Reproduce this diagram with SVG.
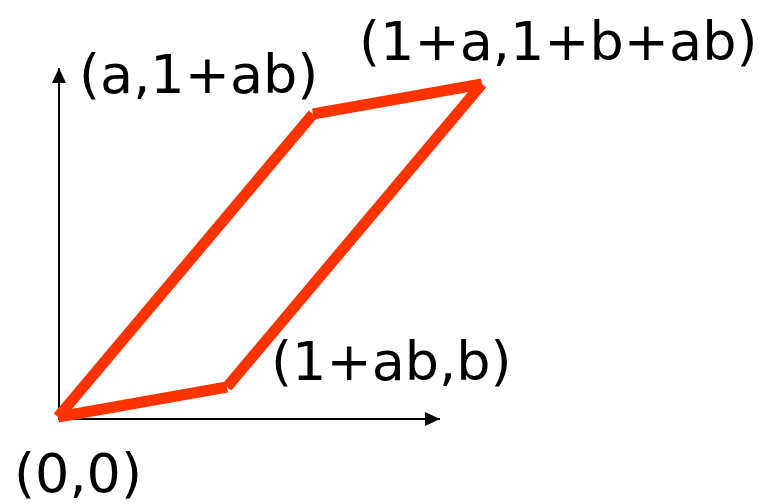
<svg xmlns="http://www.w3.org/2000/svg" width="782" height="504" viewBox="0 0 782 504">
<style>
.lbl{font-family:"DejaVu Sans",sans-serif;font-size:54px;fill:#000}
.axis{stroke:#000;stroke-width:2;fill:none}
.red{stroke:#ff3300;stroke-width:11;fill:none;stroke-linecap:butt}
</style>
<defs>
<marker id="ah" markerWidth="16" markerHeight="14" refX="15" refY="7" orient="auto" markerUnits="userSpaceOnUse">
<path d="M0,0 L15,7 L0,14 Z" fill="#000"/>
</marker>
</defs>
<rect width="782" height="504" fill="#fff"/>
<g id="connectors">
<line class="axis" x1="59" y1="418" x2="59" y2="68" marker-end="url(#ah)"/>
<line class="axis" x1="58" y1="419" x2="440" y2="419" marker-end="url(#ah)"/>
<line class="red" x1="58" y1="417" x2="227" y2="387"/>
<line class="red" x1="227" y1="387" x2="482" y2="84"/>
<line class="red" x1="482" y1="84" x2="313" y2="114"/>
<line class="red" x1="313" y1="114" x2="58" y2="417"/>
</g>
<g id="n00"><text class="lbl" x="14" y="492">(0,0)</text></g>
<g id="n1ab"><text class="lbl" x="271" y="380">(1+ab,b)</text></g>
<g id="na"><text class="lbl" x="79" y="93">(a,1+ab)</text></g>
<g id="n1a"><text class="lbl" x="359" y="60">(1+a,1+b+ab)</text></g>
</svg>
